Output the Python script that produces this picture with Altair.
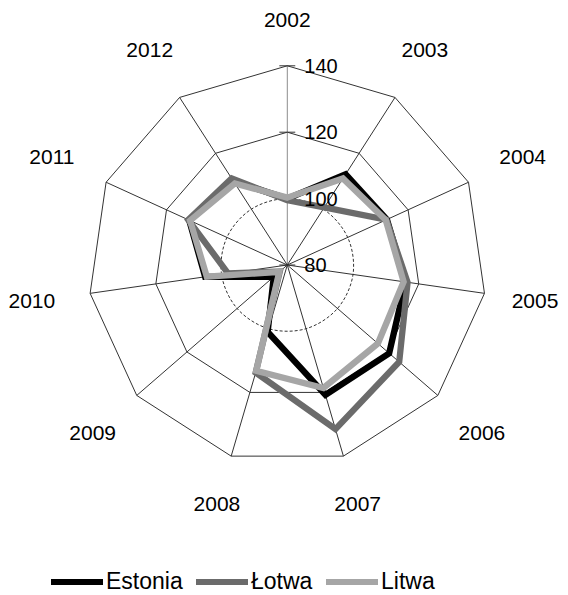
import altair as alt
import pandas as pd

# ---- data ----
categories = ["2002", "2003", "2004", "2005", "2006", "2007",
              "2008", "2009", "2010", "2011", "2012"]
estonia = [100.0, 112.5, 113.0, 116.0, 120.6, 120.8, 101.0, 85.4, 105.0, 112.5, 110.0]
lotwa = [99.5, 100.6, 112.8, 116.6, 124.6, 131.5, 113.8, 83.0, 98.0, 112.8, 111.0]
litwa = [100.3, 111.0, 112.6, 115.4, 116.1, 118.6, 113.2, 83.2, 104.5, 112.2, 109.2]

series_names = ["Estonia", "Łotwa", "Litwa"]
series_colors = ["#000000", "#6b6b6b", "#a6a6a6"]
ring_levels = [100, 120, 140]
tick_levels = [80, 100, 120, 140]
R_MIN = 80
R_MAX = 140

N = len(categories)
PX_PER_UNIT = 3.32
FONT = "Liberation Sans"
W, H = 552, 587
CX, CY = 279.3, 257.0

# ---- tables built from the arrays ----
rows = []
for name, vals in zip(series_names, [estonia, lotwa, litwa]):
    for i, (c, v) in enumerate(zip(categories, vals)):
        rows.append({"series": name, "category": c, "idx": i, "value": v})
df = pd.DataFrame(rows)

rings = pd.DataFrame([{"level": lv, "idx": i} for lv in ring_levels for i in range(N)])
spokes = pd.DataFrame([{"idx": i, "level": R_MAX} for i in range(N)])
ticks = pd.DataFrame({"level": tick_levels, "label": [str(t) for t in tick_levels]})
cats = pd.DataFrame({"category": categories, "idx": list(range(N))})

theta_expr = f"datum.idx * 2 * PI / {N}"

xs = alt.Scale(domain=[-CX / PX_PER_UNIT, (W - CX) / PX_PER_UNIT], nice=False, zero=False)
ys = alt.Scale(domain=[-(H - CY) / PX_PER_UNIT, CY / PX_PER_UNIT], nice=False, zero=False)
X = lambda f: alt.X(f, type="quantitative", scale=xs, axis=None)
Y = lambda f: alt.Y(f, type="quantitative", scale=ys, axis=None)

GRID = "#333333"


def polar(chart, field):
    return chart.transform_calculate(
        th=theta_expr,
        rr=f"datum.{field} - {R_MIN}",
    ).transform_calculate(
        x="datum.rr * sin(datum.th)",
        y="datum.rr * cos(datum.th)",
    )


# rings
ring_base = polar(alt.Chart(rings), "level")
ring_solid = ring_base.transform_filter(alt.datum.level > 100).mark_line(
    interpolate="linear-closed", color=GRID, strokeWidth=1
).encode(x=X("x"), y=Y("y"), detail="level:N", order="idx:Q")
ring_dashed = ring_base.transform_filter(alt.datum.level == 100).mark_line(
    interpolate="cardinal-closed", color=GRID, strokeWidth=1, strokeDash=[3, 2]
).encode(x=X("x"), y=Y("y"), detail="level:N", order="idx:Q")

# spokes
spoke_chart = polar(alt.Chart(spokes), "level").transform_calculate(
    x0="0", y0="0"
).mark_rule(strokeWidth=1).encode(
    x=X("x0"), y=Y("y0"), x2="x:Q", y2="y:Q",
    color=alt.condition(alt.datum.idx == 0, alt.value("#8c8c8c"), alt.value(GRID)),
)

# value-axis tick marks and labels
tick_marks = alt.Chart(ticks).transform_calculate(
    yy=f"datum.level - {R_MIN}", xl="-2.4", xr="2.4"
).mark_rule(color=GRID, strokeWidth=1).encode(x=X("xl"), x2="xr:Q", y=Y("yy"))
tick_labels = alt.Chart(ticks).transform_calculate(
    yy=f"datum.level - {R_MIN}", xx="0"
).mark_text(align="left", baseline="middle", dx=17, dy=1, fontSize=20, font=FONT, color="#000000").encode(
    x=X("xx"), y=Y("yy"), text="label:N"
)

# category labels (kept inside the drawing on the right edge)
x_max_label = (W - 25 - CX) / PX_PER_UNIT
cat_labels = alt.Chart(cats).transform_calculate(
    th=theta_expr
).transform_calculate(
    rp=f"(235 + 22 * abs(sin(datum.th)) + 9 * abs(cos(datum.th))) / {PX_PER_UNIT}"
).transform_calculate(
    x=f"min(datum.rp * sin(datum.th), {x_max_label})", y="datum.rp * cos(datum.th)"
).mark_text(align="center", baseline="middle", fontSize=21, font=FONT, color="#000000").encode(
    x=X("x"), y=Y("y"), text="category:N"
)

# series lines
line_base = polar(alt.Chart(df), "value").mark_line(
    interpolate="linear-closed", strokeWidth=6.3, strokeJoin="miter"
).encode(
    x=X("x"), y=Y("y"), order="idx:Q",
    color=alt.Color(
        "series:N",
        scale=alt.Scale(domain=series_names, range=series_colors),
        legend=alt.Legend(
            title=None, orient="none", legendX=40, legendY=545, direction="horizontal",
            symbolType="stroke", symbolSize=2704, symbolStrokeWidth=6,
            labelFontSize=23, labelFont=FONT, labelColor="#000000", labelOffset=0,
            columnPadding=1, padding=0,
        ),
    ),
)
series_layers = [line_base.transform_filter(alt.datum.series == s) for s in series_names]

chart = alt.layer(
    ring_dashed, ring_solid, spoke_chart, tick_marks, *series_layers, tick_labels, cat_labels
).properties(
    width=W, height=H, padding=0, autosize="none", background="white"
).configure_view(stroke=None)

chart.save("out.html", embed_options={"renderer": "svg", "actions": False})
